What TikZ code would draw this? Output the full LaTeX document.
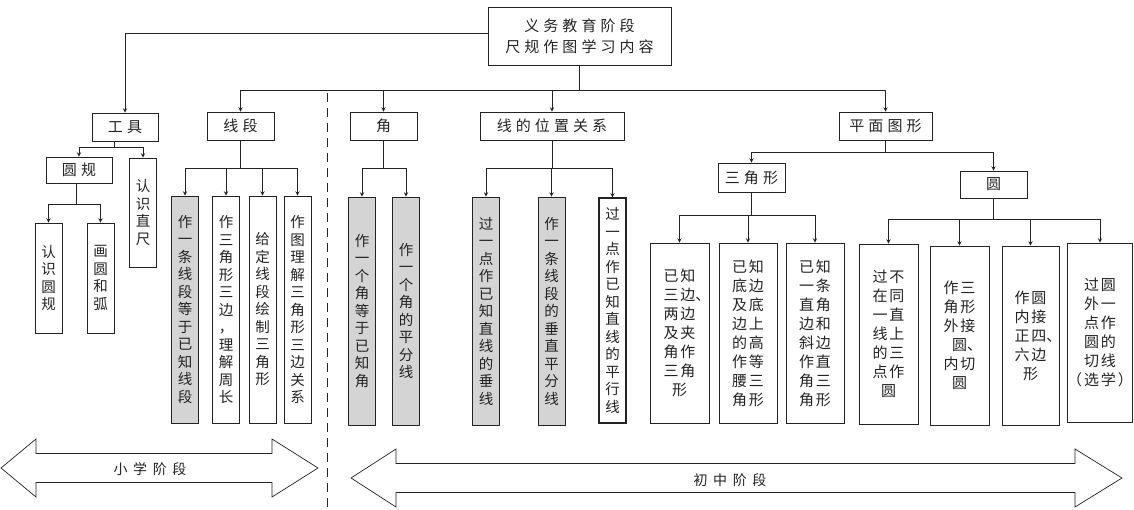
\documentclass[tikz,border=0pt]{standalone}
\usepackage{fontspec}
\setmainfont{Noto Sans CJK SC}
\newfontfamily\kuanzi[LetterSpace=27]{Noto Sans CJK SC}
\newfontfamily\zhaizi[LetterSpace=13]{Noto Sans CJK SC}
\newfontfamily\xishu[LetterSpace=40]{Noto Sans CJK SC}
\definecolor{huise}{RGB}{212,212,212}
\definecolor{mo}{RGB}{35,35,35}
% 竖排文字
\newcommand\shu[1]{\vbox{\baselineskip=17.5pt\shuA#1\relax}}
\def\shuA#1{\ifx#1\relax\else\hbox to 15pt{\hss#1\hss}\expandafter\shuA\fi}

\begin{document}
\begin{tikzpicture}[>=stealth,x=1pt,y=-1pt,line width=0.9pt,color=mo,
	biao/.style={draw,inner sep=0pt,minimum height=28,font=\kuanzi\fontsize{15}{19}\selectfont},
	tiao/.style={draw,inner sep=0pt,minimum width=27,font=\fontsize{14.5}{17.5}\selectfont},
	kuai/.style={draw,inner sep=0pt,minimum height=180,align=center,font=\zhaizi\fontsize{15}{19}\selectfont},
	hui/.style={fill=huise}]
			\useasboundingbox (0,0) rectangle (1134,510);
			%总框
			\node[biao,minimum width=183,minimum height=58,align=center,font=\kuanzi\fontsize{15}{21}\selectfont] (top) at (579.5,36) {义务教育阶段\\尺规作图学习内容};
			%第一层
			\node[biao,minimum width=66] (gj) at (125,127) {工具};
			\node[biao,minimum width=67] (xd) at (240.5,126) {线段};
			\node[biao,minimum width=67] (jiao) at (383.5,126) {角};
			\node[biao,minimum width=144] (wz) at (552,126) {线的位置关系};
			\node[biao,minimum width=93] (pm) at (885.5,126) {平面图形};
			%工具
			\node[biao,minimum width=66,minimum height=26] (yg) at (79,170) {圆规};
			\node[tiao,minimum height=109] (zc) at (143,212.5) {\shu{认识直尺}};
			\node[tiao,minimum height=110] (rsyg) at (48.5,278) {\shu{认识圆规}};
			\node[tiao,minimum height=110] (hy) at (100.5,278) {\shu{画圆和弧}};
			%线段
			\node[tiao,hui,minimum height=227] (xd1) at (185,309.5) {\shu{作一条线段等于已知线段}};
			\node[tiao,minimum height=227] (xd2) at (226,309.5) {\shu{作三角形三边，理解周长}};
			\node[tiao,minimum height=227] (xd3) at (262.5,309.5) {\shu{给定线段绘制三角形}};
			\node[tiao,minimum height=227] (xd4) at (297.5,309.5) {\shu{作图理解三角形三边关系}};
			%角
			\node[tiao,hui,minimum height=228] (j1) at (362,311) {\shu{作一个角等于已知角}};
			\node[tiao,hui,minimum height=228] (j2) at (406,311) {\shu{作一个角的平分线}};
			%线的位置关系
			\node[tiao,hui,minimum height=228] (w1) at (486,311) {\shu{过一点作已知直线的垂线}};
			\node[tiao,hui,minimum height=228] (w2) at (551.5,311) {\shu{作一条线段的垂直平分线}};
			\node[tiao,minimum height=225,line width=1.2pt] (w3) at (612.5,310.5) {\shu{过一点作已知直线的平行线}};
			%平面图形
			\node[biao,minimum width=67,minimum height=29] (sjx) at (751.5,177.5) {三角形};
			\node[biao,minimum width=67,minimum height=27] (yuan) at (993.5,184.5) {圆};
			\node[kuai,minimum width=59] (s1) at (679.5,333) {已知\\三边\rlap{、}\\两边\\及夹\\角作\\三角\\形};
			\node[kuai,minimum width=58] (s2) at (748,333) {已知\\底边\\及底\\边上\\的高\\作等\\腰三\\角形};
			\node[kuai,minimum width=58] (s3) at (815,333) {已知\\一条\\直角\\边和\\斜边\\作直\\角三\\角形};
			\node[kuai,minimum width=59] (y1) at (888.5,334) {过不\\在同\\一直\\线上\\的三\\点作\\圆};
			\node[kuai,minimum width=59,minimum height=179] (y2) at (959.5,335.5) {作三\\角形\\外接\\圆\rlap{、}\\内切\\圆};
			\node[kuai,minimum width=57,minimum height=179] (y3) at (1030.5,335.5) {作圆\\内接\\正四\rlap{、}\\六边\\形};
			\node[kuai,minimum width=58,minimum height=179] (y4) at (1100,332.5) {过圆\\外一\\点作\\圆的\\切线\\（选学）};
			%箭头 总框
			\draw [->] ([yshift=3pt]top.west) -| (gj.north);
			\draw [->] (top.south) -- ++(0,25) -| (xd.north);
			\draw [->] (top.south) -- ++(0,25) -| (jiao.north);
			\draw [->] (top.south) -- ++(0,25) -| (wz.north);
			\draw [->] (top.south) -- ++(0,25) -| (pm.north);
			%箭头 工具
			\draw [->] ([xshift=-11pt]gj.south) -- ++(0,6) -| (yg.north);
			\draw [->] ([xshift=-11pt]gj.south) -- ++(0,6) -| (zc.north);
			\draw [->] ([xshift=-3pt]yg.south) -- ++(0,21) -| (rsyg.north);
			\draw [->] ([xshift=-3pt]yg.south) -- ++(0,21) -| (hy.north);
			%箭头 线段
			\draw [->] (xd.south) -- ++(0,28) -| (xd1.north);
			\draw [->] (xd.south) -- ++(0,28) -| (xd2.north);
			\draw [->] (xd.south) -- ++(0,28) -| (xd3.north);
			\draw [->] (xd.south) -- ++(0,28) -| (xd4.north);
			%箭头 角
			\draw [->] (jiao.south) -- ++(0,28) -| (j1.north);
			\draw [->] (jiao.south) -- ++(0,28) -| (j2.north);
			%箭头 线的位置关系
			\draw [->] (wz.south) -- ++(0,28) -| (w1.north);
			\draw [->] (wz.south) -- ++(0,28) -| (w2.north);
			\draw [->] (wz.south) -- ++(0,28) -| (w3.north);
			%箭头 平面图形
			\draw [->] (pm.south) -- ++(0,12) -| (sjx.north);
			\draw [->] (pm.south) -- ++(0,12) -| (yuan.north);
			\draw [->] (sjx.south) -- ++(0,23) -| (s1.north);
			\draw [->] (sjx.south) -- ++(0,23) -| (s2.north);
			\draw [->] (sjx.south) -- ++(0,23) -| (s3.north);
			\draw [->] (yuan.south) -- ++(0,21) -| (y1.north);
			\draw [->] (yuan.south) -- ++(0,21) -| (y2.north);
			\draw [->] (yuan.south) -- ++(0,21) -| (y3.north);
			\draw [->] (yuan.south) -- ++(0,21) -| (y4.north);
			%分界线
			\coordinate (fj1) at (327,93);
			\coordinate (fj2) at (327,510);
			\draw [dashed,dash pattern=on 9pt off 6pt] (fj1) -- (fj2);
			%小学阶段
			\draw [fill=white,line width=0.7pt] (1,468) -- (36,439) -- (36,453.5) -- (272,453.5) -- (272,439) -- (318,468) -- (272,497) -- (272,482.5) -- (36,482.5) -- (36,497) -- cycle;
			\node[font=\xishu\fontsize{14}{14}\selectfont] (xx) at (150,469) {小学阶段};
			%初中阶段
			\draw [fill=white,line width=0.7pt] (351,478) -- (396,449) -- (396,463.5) -- (1075,463.5) -- (1075,449) -- (1122,478) -- (1075,507) -- (1075,492.5) -- (396,492.5) -- (396,507) -- cycle;
			\node[font=\xishu\fontsize{14}{14}\selectfont] (cz) at (730,480) {初中阶段};
		\end{tikzpicture}
\end{document}
